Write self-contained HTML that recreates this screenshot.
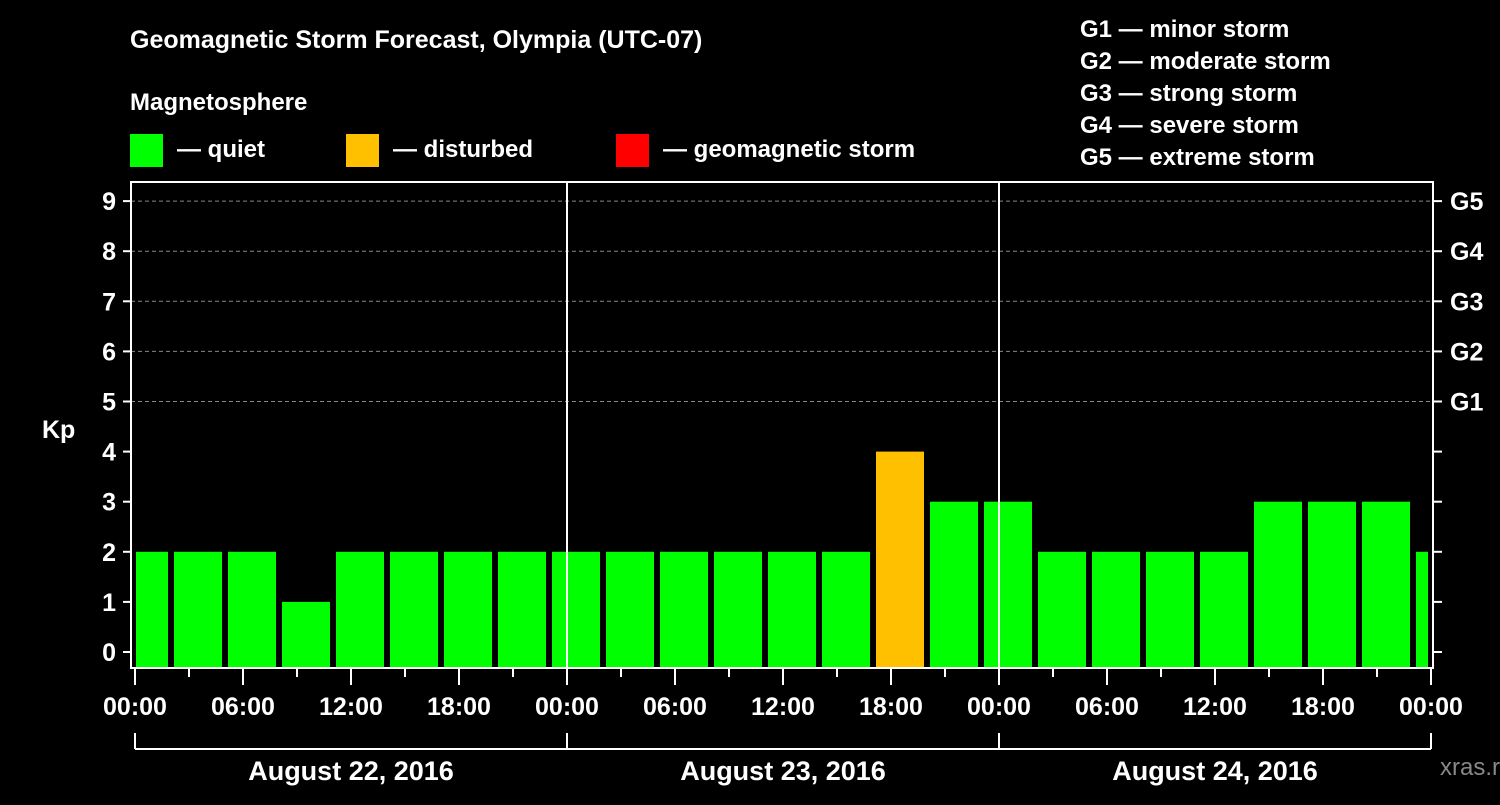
<!DOCTYPE html>
<html><head><meta charset="utf-8"><style>
body{margin:0;background:#000;width:1500px;height:800px;overflow:hidden}
svg text{font-family:"Liberation Sans",sans-serif;font-weight:bold;fill:#fff}
</style></head><body>
<svg id="chart" width="1500" height="800" xmlns="http://www.w3.org/2000/svg">
<text x="130" y="48" font-size="25">Geomagnetic Storm Forecast, Olympia (UTC-07)</text>
<text x="130" y="110" font-size="24">Magnetosphere</text>
<g><rect x="130" y="134" width="33" height="33" fill="#00ff00"/><text x="177" y="157" font-size="24">— quiet</text></g>
<g><rect x="346" y="134" width="33" height="33" fill="#ffc000"/><text x="393" y="157" font-size="24">— disturbed</text></g>
<g><rect x="616" y="134" width="33" height="33" fill="#ff0000"/><text x="663" y="157" font-size="24">— geomagnetic storm</text></g>
<g font-size="24">
<text x="1080" y="37">G1 — minor storm</text>
<text x="1080" y="69">G2 — moderate storm</text>
<text x="1080" y="101">G3 — strong storm</text>
<text x="1080" y="133">G4 — severe storm</text>
<text x="1080" y="165">G5 — extreme storm</text>
</g>
<text x="42" y="438" font-size="25">Kp</text>
<text x="1440" y="775" font-size="24" fill="#888" style="fill:#888;font-weight:normal">xras.ru</text>
<g id="grid"></g><g id="bars"></g><g id="axes"></g>
</svg>
<script>
const kpValues=[2,2,2,1,2,2,2,2,2,2,2,2,2,2,4,3,3,2,2,2,2,3,3,3,2];
const yTicks=[0,1,2,3,4,5,6,7,8,9];
const gLabels=["G1","G2","G3","G4","G5"];
const hourLabels=["00:00","06:00","12:00","18:00","00:00","06:00","12:00","18:00","00:00","06:00","12:00","18:00","00:00"];
const dateLabels=["August 22, 2016","August 23, 2016","August 24, 2016"];
const firstSlotStartHour=-1, slotHours=3, totalHours=72;
const NS="http://www.w3.org/2000/svg";
const L=131,R=1433,T=182,B=668;
const x=h=>135+h*18;
const y=v=>652-v*50.1;
function mk(tag,attrs,parent){const e=document.createElementNS(NS,tag);for(const k in attrs)e.setAttribute(k,attrs[k]);parent.appendChild(e);return e;}
const grid=document.getElementById('grid'),bars=document.getElementById('bars'),axes=document.getElementById('axes');
for(let v=5;v<=9;v++){const l=mk('line',{x1:L,x2:R,y1:y(v),y2:y(v),stroke:'#888','stroke-dasharray':'4,3','stroke-width':1},grid);

}
kpValues.forEach((v,i)=>{let s=firstSlotStartHour+i*slotHours,e=s+slotHours;
let x0=Math.max(x(s)+3,x(0)+1),x1=Math.min(x(e)-3,x(totalHours)-3);
const r=mk('rect',{x:x0,y:y(v),width:x1-x0,height:B-y(v),fill:v>=5?'#ff0000':(v>=4?'#ffc000':'#00ff00')},bars);

});
mk('rect',{x:L,y:T,width:R-L,height:B-T,fill:'none',stroke:'#fff','stroke-width':2},axes);
[24,48].forEach(h=>{const l=mk('line',{x1:x(h),x2:x(h),y1:T,y2:B,stroke:'#fff','stroke-width':2},axes);

});
yTicks.forEach(v=>{mk('line',{x1:123,x2:L,y1:y(v),y2:y(v),stroke:'#fff','stroke-width':2},axes);
mk('line',{x1:R,x2:1442,y1:y(v),y2:y(v),stroke:'#fff','stroke-width':2},axes);
const t=mk('text',{x:116,y:y(v)+9,'font-size':25,'text-anchor':'end'},axes);t.textContent=v;

});
gLabels.forEach((g,i)=>{const t=mk('text',{x:1450,y:y(5+i)+9,'font-size':25},axes);t.textContent=g;

});
for(let h=0;h<=totalHours;h+=3){mk('line',{x1:x(h),x2:x(h),y1:B,y2:h%6==0?685:677,stroke:'#fff','stroke-width':2},axes);}
hourLabels.forEach((s,i)=>{const t=mk('text',{x:x(i*6),y:715,'font-size':25,'text-anchor':'middle'},axes);t.textContent=s;

});
mk('line',{x1:x(0),x2:x(72),y1:749,y2:749,stroke:'#fff','stroke-width':2},axes);
[0,24,48,72].forEach(h=>mk('line',{x1:x(h),x2:x(h),y1:733,y2:749,stroke:'#fff','stroke-width':2},axes));
dateLabels.forEach((s,i)=>{const t=mk('text',{x:x(i*24+12),y:780,'font-size':27,'text-anchor':'middle'},axes);t.textContent=s;

});
</script>
</body></html>
